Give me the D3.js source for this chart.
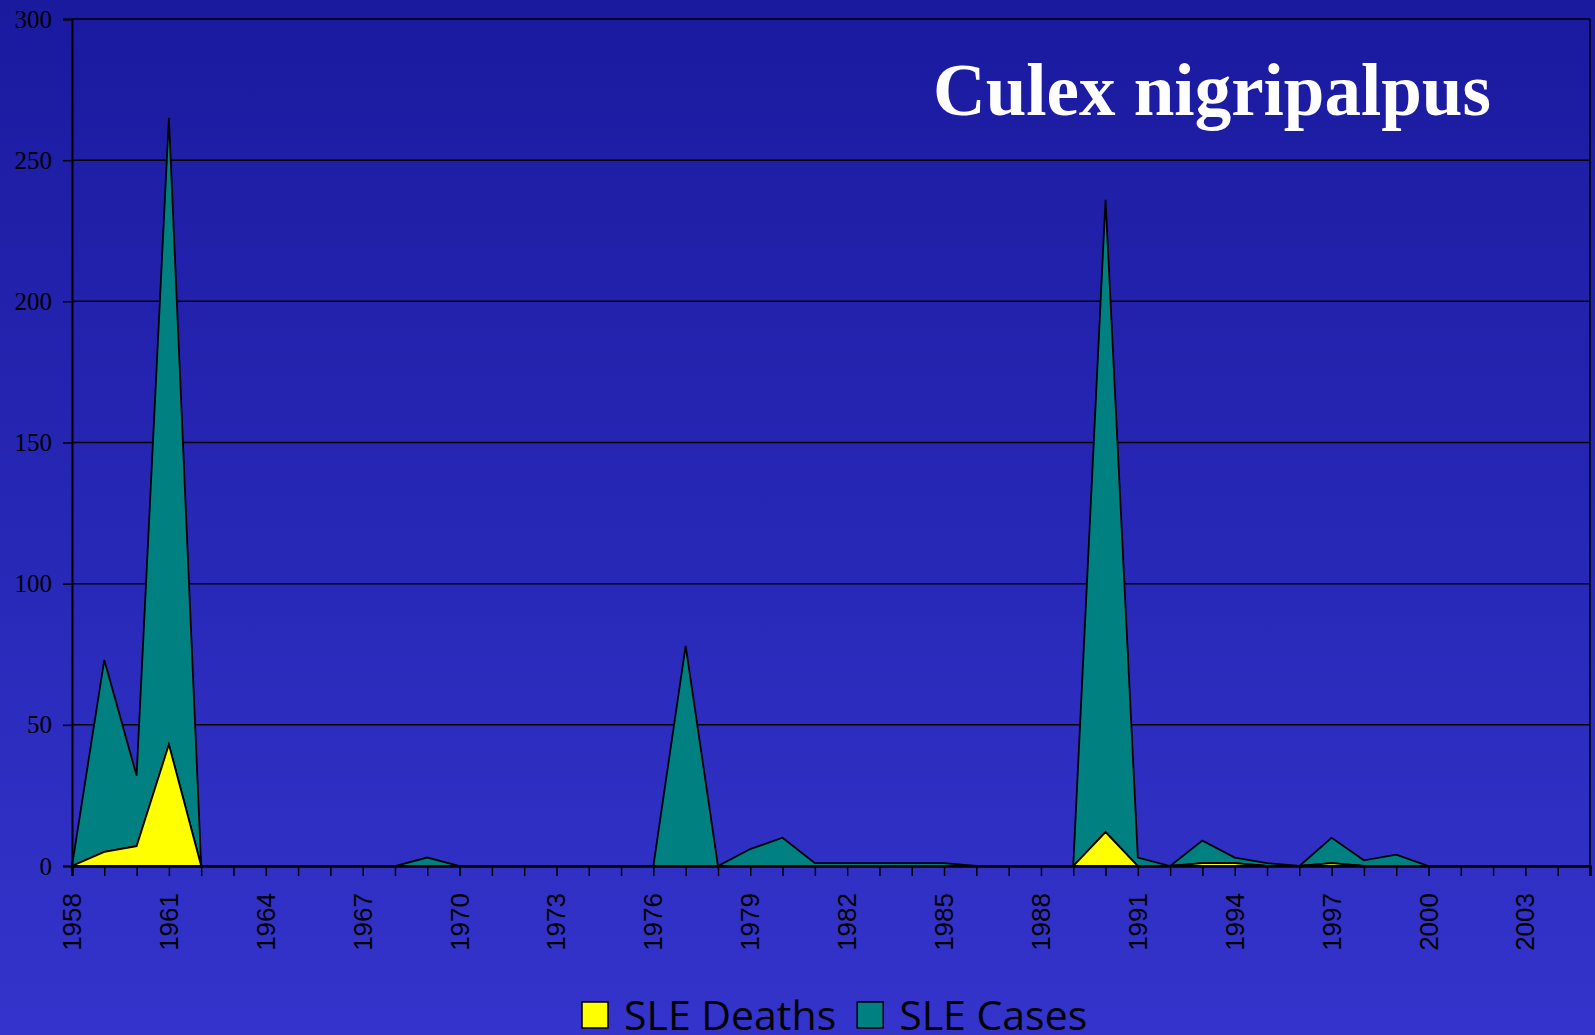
<!DOCTYPE html>
<html>
<head>
<meta charset="utf-8">
<script src="https://cdn.jsdelivr.net/npm/d3@7"></script>
<style>
  html, body { margin: 0; padding: 0; overflow: hidden; }
  svg { display: block; }
</style>
</head>
<body>
<svg id="chart" width="1595" height="1035"></svg>
<script>
// ---- data ----
const years = d3.range(1958, 2006);
const sleDeaths = [0,5,7,43,0,0,0,0,0,0, 0,0,0,0,0,0,0,0,0,0, 0,0,0,0,0,0,0,0,0,0, 0,0,12,0,0,1,1,0,0,1, 0,0,0,0,0,0,0,0];
const sleCases  = [0,68,25,222,0,0,0,0,0,0, 0,3,0,0,0,0,0,0,0,78, 0,6,10,1,1,1,1,1,0,0, 0,0,224,3,0,8,2,1,0,9, 2,4,0,0,0,0,0,0];
const yTicks = [0, 50, 100, 150, 200, 250, 300];
const xLabelYears = d3.range(1958, 2006, 3);
const seriesNames = ["SLE Deaths", "SLE Cases"];
const seriesColors = ["#FFFF00", "#008080"];
const titleText = "Culex nigripalpus";

// ---- layout ----
const W = 1595, H = 1035;
const mLeft = 72, mRight = 1590, mTop = 19, mBottom = 866;

const svg = d3.select("#chart");
const defs = svg.append("defs");
const grad = defs.append("linearGradient").attr("id", "bg").attr("x1", 0).attr("y1", 0).attr("x2", 0).attr("y2", 1);
grad.append("stop").attr("offset", "0%").attr("stop-color", "#1A1A9F");
grad.append("stop").attr("offset", "100%").attr("stop-color", "#3434CC");
svg.append("rect").attr("width", W).attr("height", H).attr("fill", "url(#bg)");

const x = d3.scaleLinear().domain([1958, 2005]).range([mLeft, mRight]);
const y = d3.scaleLinear().domain([0, 300]).range([mBottom, mTop]);

// gridlines
svg.append("g").selectAll("line").data(yTicks.filter(d => d > 0)).join("line")
  .attr("x1", mLeft).attr("x2", mRight)
  .attr("y1", d => y(d)).attr("y2", d => y(d))
  .attr("stroke", "#000").attr("stroke-width", 1.5);

// right border
svg.append("line").attr("x1", mRight).attr("x2", mRight).attr("y1", mTop).attr("y2", mBottom)
  .attr("stroke", "#000").attr("stroke-width", 1.5);

// stacked areas
const rows = years.map((yr, i) => ({ year: yr, deaths: sleDeaths[i], cases: sleCases[i] }));
const stacked = d3.stack().keys(["deaths", "cases"])(rows);
const area = d3.area().x(d => x(d.data.year)).y0(d => y(d[0])).y1(d => y(d[1]));
svg.append("g").selectAll("path").data([stacked[1], stacked[0]]).join("path")
  .attr("d", area)
  .attr("fill", d => d.key === "deaths" ? seriesColors[0] : seriesColors[1])
  .attr("stroke", "#000").attr("stroke-width", 1.8).attr("stroke-linejoin", "miter");

// y axis
const yAxis = svg.append("g").attr("transform", `translate(${mLeft},0)`)
  .call(d3.axisLeft(y).tickValues(yTicks).tickSize(9).tickPadding(11).tickFormat(d3.format("d")));
yAxis.select(".domain").attr("stroke", "#000").attr("stroke-width", 2);
yAxis.selectAll(".tick line").attr("stroke", "#000").attr("stroke-width", 1.5);
yAxis.selectAll("text").attr("fill", "#000")
  .style("font-family", "'Liberation Serif', 'Times New Roman', serif").style("font-size", "25px");

// x axis
const xAxis = svg.append("g").attr("transform", `translate(0,${mBottom})`)
  .call(d3.axisBottom(x).tickValues(years).tickSize(10).tickFormat(""));
xAxis.select(".domain").attr("stroke", "#000").attr("stroke-width", 2.5);
xAxis.selectAll(".tick line").attr("stroke", "#000").attr("stroke-width", 1.5);

svg.append("g").selectAll("text").data(xLabelYears).join("text")
  .attr("transform", d => `translate(${x(d)},${mBottom + 27}) rotate(-90)`)
  .attr("text-anchor", "end")
  .attr("dominant-baseline", "central")
  .attr("fill", "#000")
  .style("font-family", "'Liberation Sans', Arial, sans-serif").style("font-size", "26px")
  .text(d => d);

// title
svg.append("text").attr("x", 933).attr("y", 115)
  .attr("fill", "#fff")
  .style("font-family", "'Liberation Serif', 'Times New Roman', serif")
  .style("font-weight", "bold").style("font-size", "73px")
  .text(titleText);

// legend
const legend = svg.append("g");
let lx = 582;
seriesNames.forEach((name, i) => {
  legend.append("rect").attr("x", lx).attr("y", 1002).attr("width", 26).attr("height", 26)
    .attr("fill", seriesColors[i]).attr("stroke", "#000").attr("stroke-width", 1.5);
  const t = legend.append("text").attr("x", lx + 42).attr("y", 1030)
    .attr("fill", "#000")
    .style("font-family", "'Comic Sans MS', 'Open Sans', sans-serif").style("font-size", "41px")
    .text(name);
  lx = lx + 42 + t.node().getComputedTextLength() + 21;
});
</script>
</body>
</html>
